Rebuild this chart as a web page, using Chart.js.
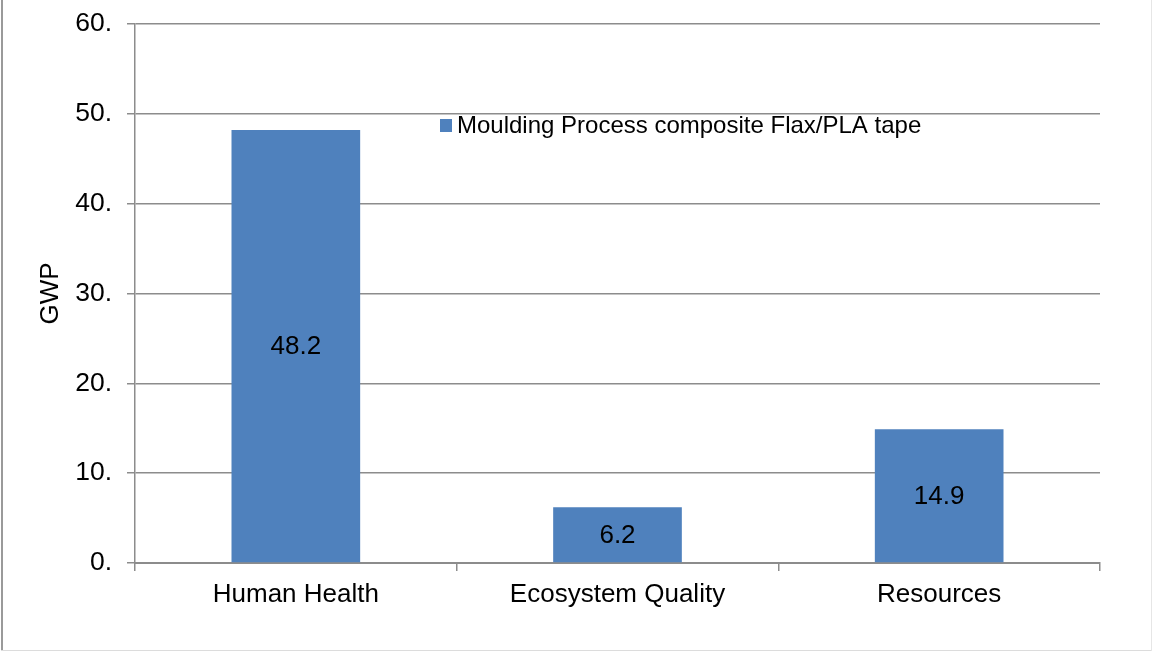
<!DOCTYPE html>
<html>
<head>
<meta charset="utf-8">
<title>GWP by damage category</title>
<script src="https://cdn.jsdelivr.net/npm/chart.js@4.4.1/dist/chart.umd.min.js"></script>
<style>
  html, body { margin: 0; padding: 0; background: #ffffff; }
  #frame { position: relative; width: 1152px; height: 652px; overflow: hidden; background: #ffffff; }
  #frame canvas { position: absolute; left: 0; top: 0; }
  .edge { position: absolute; pointer-events: none; }
  #edgeLeft { left: 1px; top: 0; width: 2px; height: 651px; background: #9a9a9a; }
  #edgeBottom { left: 1px; top: 650px; width: 1151px; height: 1px; background: #dcdcdc; }
  #edgeRight { left: 1151px; top: 0; width: 1px; height: 651px; background: #e6e6e6; }
</style>
</head>
<body>
<div id="frame">
  <canvas id="chart" width="1152" height="652"></canvas>
  <div class="edge" id="edgeLeft"></div>
  <div class="edge" id="edgeBottom"></div>
  <div class="edge" id="edgeRight"></div>
</div>
<script>
// Damage categories and their GWP scores
const categories = ['Human Health', 'Ecosystem Quality', 'Resources'];
const gwpValues = [48.2, 6.2, 14.9];
const seriesName = 'Moulding Process composite Flax/PLA tape';
const yTicks = [0, 10, 20, 30, 40, 50, 60];
const axisTitle = 'GWP';

const FONT = '"Liberation Sans", Arial, sans-serif';
const BAR_BLUE = '#4f81bd';
const AXIS_GREY = '#8c8c8c';

// Writes each bar's value in the middle of the bar
const valueLabels = {
  id: 'valueLabels',
  afterDatasetsDraw(chart) {
    const ctx = chart.ctx;
    const meta = chart.getDatasetMeta(0);
    const data = chart.data.datasets[0].data;
    ctx.save();
    ctx.font = '26px ' + FONT;
    ctx.fillStyle = '#000000';
    ctx.textAlign = 'center';
    ctx.textBaseline = 'middle';
    meta.data.forEach((bar, i) => {
      const p = bar.getProps(['x', 'y', 'base'], true);
      ctx.fillText(data[i].toFixed(1), p.x, (p.y + p.base) / 2 + 1);
    });
    ctx.restore();
  }
};

// Series key placed inside the plot, just under the 50 gridline
const insideLegend = {
  id: 'insideLegend',
  afterDraw(chart) {
    const ctx = chart.ctx;
    const area = chart.chartArea;
    const ds = chart.data.datasets[0];
    const x = area.left + 305;
    const y = area.top + 95;
    ctx.save();
    ctx.fillStyle = ds.backgroundColor;
    ctx.fillRect(x, y, 12, 13);
    ctx.font = '24px ' + FONT;
    ctx.fillStyle = '#000000';
    ctx.textAlign = 'left';
    ctx.textBaseline = 'alphabetic';
    ctx.fillText(ds.label, x + 17, y + 14);
    ctx.restore();
  }
};

new Chart(document.getElementById('chart'), {
  type: 'bar',
  data: {
    labels: categories,
    datasets: [{
      label: seriesName,
      data: gwpValues,
      backgroundColor: BAR_BLUE,
      borderWidth: 0,
      categoryPercentage: 0.4,
      barPercentage: 1.0
    }]
  },
  options: {
    responsive: false,
    animation: false,
    devicePixelRatio: 1,
    layout: { padding: { left: 0, right: 52, top: 24, bottom: 0 } },
    plugins: {
      legend: { display: false },
      tooltip: { enabled: false }
    },
    scales: {
      x: {
        grid: {
          offset: true,
          drawOnChartArea: false,
          drawTicks: true,
          tickLength: 8,
          color: AXIS_GREY,
          lineWidth: 1.5
        },
        border: { display: true, color: AXIS_GREY, width: 2 },
        ticks: {
          color: '#000000',
          font: { family: FONT, size: 26 },
          padding: 8,
          maxRotation: 0
        },
        afterFit(scale) { scale.height = 89; }
      },
      y: {
        min: 0,
        max: 60,
        afterBuildTicks(scale) { scale.ticks = yTicks.map(v => ({ value: v })); },
        grid: {
          color: AXIS_GREY,
          lineWidth: 1.5,
          drawTicks: true,
          tickLength: 8
        },
        border: { display: true, color: AXIS_GREY, width: 1.5 },
        ticks: {
          color: '#000000',
          font: { family: FONT, size: 26.5 },
          padding: 15,
          callback: v => v + '.'
        },
        title: {
          display: true,
          text: axisTitle,
          color: '#000000',
          font: { family: FONT, size: 26 },
          padding: { top: 35, bottom: 0 }
        },
        afterFit(scale) {
          scale.width = 135;
          scale.paddingTop = 0;
          scale.paddingBottom = 0;
        }
      }
    }
  },
  plugins: [valueLabels, insideLegend]
});
</script>
</body>
</html>
